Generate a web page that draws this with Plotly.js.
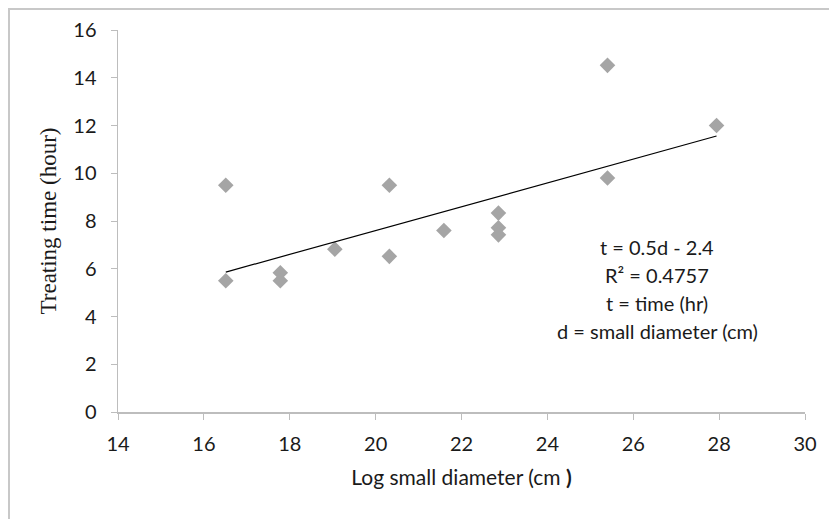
<!DOCTYPE html>
<html>
<head>
<meta charset="utf-8">
<script src="https://cdn.plot.ly/plotly-3.0.1.min.js"></script>
<style>
html,body{margin:0;padding:0;background:#fff;}
#wrap{position:relative;width:829px;height:519px;}
#chart{position:absolute;left:0;top:0;width:829px;height:519px;}
#frame{position:absolute;left:8px;top:8px;width:821px;height:511px;border-top:2px solid #c8c8c8;border-left:2px solid #c8c8c8;pointer-events:none;}
</style>
</head>
<body>
<div id="wrap"><div id="chart"></div><div id="frame"></div></div>
<script>
// Data
const diameter = [16.51, 16.51, 17.78, 17.78, 19.05, 20.32, 20.32, 21.59, 22.86, 22.86, 22.86, 25.40, 25.40, 27.94];
const treatTime = [9.5, 5.5, 5.83, 5.5, 6.82, 9.5, 6.52, 7.6, 8.33, 7.72, 7.42, 14.52, 9.8, 12.0];
// Linear trendline endpoints (as drawn)
const trendX = [16.51, 27.94];
const trendY = [5.86, 11.56];
const xTicks = [14, 16, 18, 20, 22, 24, 26, 28, 30];
const yTicks = [0, 2, 4, 6, 8, 10, 12, 14, 16];
const noteLines = ["t = 0.5d - 2.4", "R\u00b2 = 0.4757", "t = time (hr)", "d = small diameter (cm)"];

const sans = "Lato, 'Open Sans', sans-serif";
const traces = [
  {
    x: diameter, y: treatTime, type: 'scatter', mode: 'markers',
    marker: {symbol: 'diamond', size: 12, color: '#a5a5a5', line: {width: 0}},
    hoverinfo: 'x+y'
  },
  {
    x: trendX, y: trendY, type: 'scatter', mode: 'lines',
    line: {color: '#000000', width: 1.2}, hoverinfo: 'skip'
  }
];

const noteY = [0.432, 0.359, 0.285, 0.212];
const annotations = noteLines.map((t, i) => ({
  text: t, xref: 'paper', yref: 'paper', x: 0.785, y: noteY[i],
  xanchor: 'center', yanchor: 'middle', showarrow: false,
  font: {family: sans, size: 20, color: '#1a1a1a'}
}));

const layout = {
  width: 829, height: 519,
  margin: {l: 118, r: 24, t: 30, b: 107},
  paper_bgcolor: '#ffffff', plot_bgcolor: '#ffffff',
  showlegend: false,
  xaxis: {
    range: [14, 30], tickvals: xTicks, ticktext: xTicks.map(String),
    showgrid: false, zeroline: false, showline: true, linecolor: '#bdbdbd', linewidth: 1.5,
    ticks: 'outside', ticklen: 6, tickcolor: '#bdbdbd', tickwidth: 1,
    ticklabelstandoff: 7,
    tickfont: {family: sans, size: 20, color: '#1a1a1a'},
    title: {text: 'Log small diameter (cm <b>)</b>', font: {family: sans, size: 21, color: '#1a1a1a'}, standoff: 17},
    automargin: false
  },
  yaxis: {
    range: [0, 16], tickvals: yTicks, ticktext: yTicks.map(String),
    showgrid: false, zeroline: false, showline: true, linecolor: '#bdbdbd', linewidth: 1.5,
    ticks: 'outside', ticklen: 6, tickcolor: '#bdbdbd', tickwidth: 1,
    ticklabelstandoff: 10,
    tickfont: {family: sans, size: 20, color: '#1a1a1a'},
    title: {text: 'Treating time (hour)', font: {family: "'Liberation Serif', 'Times New Roman', serif", size: 23, color: '#1a1a1a'}, standoff: 10},
    automargin: false
  },
  annotations: annotations
};

Plotly.newPlot('chart', traces, layout, {displayModeBar: false, staticPlot: true});
</script>
</body>
</html>
